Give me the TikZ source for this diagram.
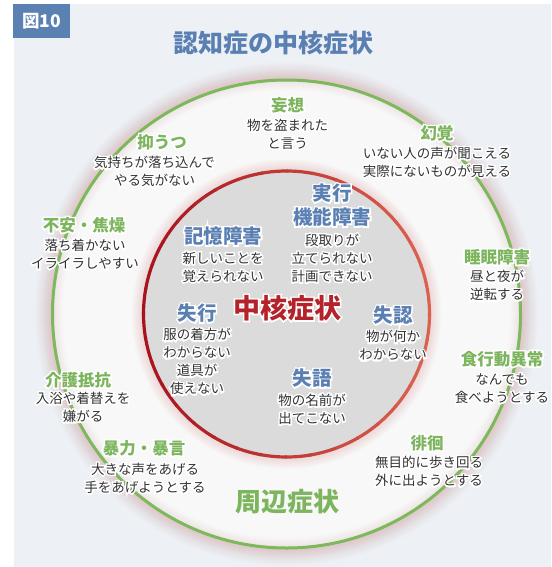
\documentclass[tikz,border=0pt]{standalone}
\usepackage{fontspec}
\setmainfont{Noto Sans CJK JP}
\definecolor{panelc}{HTML}{EDF1F5}
\definecolor{tagc}{HTML}{5B80B2}
\definecolor{bluec}{HTML}{5A7FB3}
\definecolor{greenc}{HTML}{7DB55E}
\definecolor{ringc}{HTML}{7CB85C}
\definecolor{bodyc}{HTML}{333333}
\definecolor{corec}{HTML}{B5232A}
\definecolor{innerc}{HTML}{DBDBDB}
\definecolor{outerfill}{HTML}{F8F8F8}
\definecolor{reddark}{HTML}{A8121E}
\definecolor{redlight}{HTML}{DA6450}
\definecolor{glowc}{HTML}{E08C8C}
\newcommand{\hl}[1]{\rlap{\special{pdf:code q 1 Tr 3 w 1 1 1 RG}{\color{white}#1}\special{pdf:code Q}}#1}
\begin{document}
\begin{tikzpicture}[x=1pt,y=-1pt,
  body/.style={font=\fontsize{13.5}{18}\selectfont, text=bodyc, align=center, inner sep=0pt},
  gtitle/.style={font=\fontsize{16.5}{20}\selectfont\bfseries, text=greenc, inner sep=0pt},
  btitle/.style={font=\fontsize{19.5}{24}\selectfont\bfseries, text=bluec, align=center, inner sep=0pt},
  bigtitle/.style={font=\fontsize{25}{30}\selectfont\bfseries, inner sep=0pt}]
\useasboundingbox (0,0) rectangle (551,567);
% panel
\fill[panelc] (14,4) rectangle (551,567);
\coordinate (c) at (286.5,314);
% outer glow
\foreach \w in {2,4,...,36} {
  \draw[glowc, line width=\w pt, opacity=0.012] (c) circle[radius=234];
}
\fill[outerfill] (c) circle[radius=233];
\foreach \w in {2,4,...,20} {
  \draw[glowc, line width=\w pt, opacity=0.014] (c) circle[radius=234];
}
\draw[ringc, line width=3pt] (c) circle[radius=234];
% inner glow
\foreach \w in {2,4,...,24} {
  \draw[glowc, line width=\w pt, opacity=0.022] (c) circle[radius=143];
}
\fill[innerc] (c) circle[radius=143];
\foreach \a in {0,10,...,350} {
  \pgfmathtruncatemacro\t{50+50*cos(\a+5)}
  \draw[redlight!\t!reddark, line width=3.2pt] (c) ++(\a:143) arc[start angle=\a, end angle=\a+10.6, radius=143];
}
% tag
\node[fill=tagc, text=white, font=\fontsize{17.5}{20}\selectfont\bfseries, minimum width=57pt, minimum height=34pt, inner sep=0pt] (tag) at (41.5,21) {図10};
\node[bigtitle, text=bluec] (title) at (273,43) {認知症の中核症状};
% core
\node[bigtitle, text=corec, font=\fontsize{27}{30}\selectfont\bfseries] (core) at (287,308) {\hl{中核症状}};
\node[btitle] (t1) at (332,205) {\hl{実行}\\\hl{機能障害}};
\node[body] (b1) at (332,258) {\hl{段取りが}\\\hl{立てられない}\\\hl{計画できない}};
\node[btitle] (t2) at (223,236) {\hl{記憶障害}};
\node[body] (b2) at (223,267) {\hl{新しいことを}\\\hl{覚えられない}};
\node[btitle] (t3) at (197,313) {\hl{失行}};
\node[body] (b3) at (197,361.5) {\hl{服の着方が}\\\hl{わからない}\\\hl{道具が}\\\hl{使えない}};
\node[btitle] (t4) at (393,315) {\hl{失認}};
\node[body] (b4) at (393,345.5) {\hl{物が何か}\\\hl{わからない}};
\node[btitle] (t5) at (312,378) {\hl{失語}};
\node[body] (b5) at (312,409) {\hl{物の名前が}\\\hl{出てこない}};
% peripheral
\node[bigtitle, text=greenc, font=\fontsize{26}{30}\selectfont\bfseries] (peri) at (287,502) {周辺症状};
\node[gtitle] (g1) at (287.5,105) {\hl{妄想}};
\node[body] (p1) at (287.5,134) {\hl{物を盗まれた}\\\hl{と言う}};
\node[gtitle] (g2) at (437,133) {\hl{幻覚}};
\node[body] (p2) at (437,162) {\hl{いない人の声が聞こえる}\\\hl{実際にないものが見える}};
\node[gtitle] (g3) at (162,142) {\hl{抑うつ}};
\node[body] (p3) at (154.5,171.5) {\hl{気持ちが落ち込んで}\\\hl{やる気がない}};
\node[gtitle] (g4) at (84,225) {\hl{不安・焦燥}};
\node[body] (p4) at (85,254) {\hl{落ち着かない}\\\hl{イライラしやすい}};
\node[gtitle] (g5) at (78,380) {\hl{介護抵抗}};
\node[body] (p5) at (83,407) {\hl{入浴や着替えを}\\\hl{嫌がる}};
\node[gtitle] (g6) at (144,448) {\hl{暴力・暴言}};
\node[body] (p6) at (145,478) {\hl{大きな声をあげる}\\\hl{手をあげようとする}};
\node[gtitle] (g7) at (427,443) {\hl{徘徊}};
\node[body] (p7) at (429,471.5) {\hl{無目的に歩き回る}\\\hl{外に出ようとする}};
\node[gtitle] (g8) at (502,359) {\hl{食行動異常}};
\node[body] (p8) at (502,388.5) {\hl{なんでも}\\\hl{食べようとする}};
\node[gtitle] (g9) at (497,257) {\hl{睡眠障害}};
\node[body] (p9) at (497,285.5) {\hl{昼と夜が}\\\hl{逆転する}};
\end{tikzpicture}
\end{document}
